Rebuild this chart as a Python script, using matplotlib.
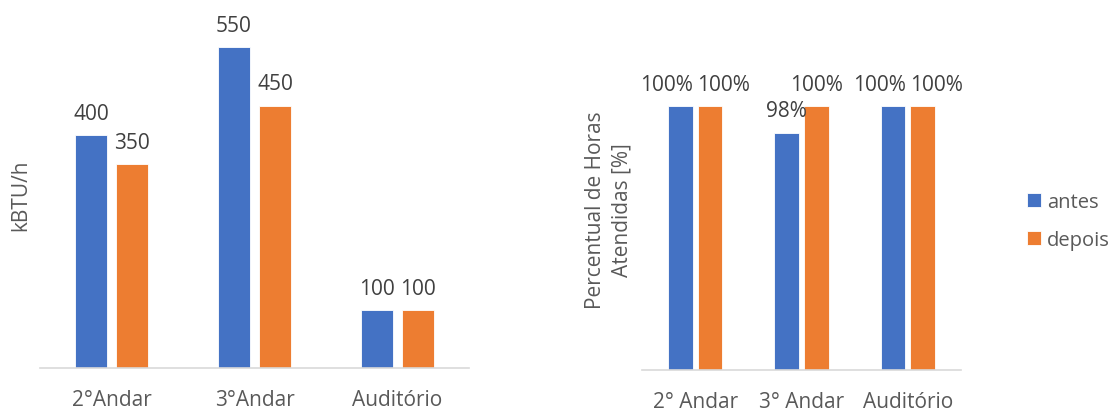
import matplotlib.pyplot as plt
import numpy as np

plt.rcParams['font.family'] = ['Open Sans', 'DejaVu Sans']

# data
carga_cats = ['2°Andar', '3°Andar', 'Auditório']
carga_antes = [400, 550, 100]
carga_depois = [350, 450, 100]

horas_cats = ['2° Andar', '3° Andar', 'Auditório']
horas_antes = [100, 98, 100]
horas_depois = [100, 100, 100]

series_names = ['antes', 'depois']

BLUE = '#4472C4'
ORANGE = '#ED7D31'
LABEL = '#404040'
GREY = '#595959'
W, H = 1115, 410

def px(x, y):
    # pixel position (from top-left) to figure fraction
    return x / W, 1 - y / H

def drawBars(ax, cats, antes, depois, width, off, fmt, spread=0):
    x = np.arange(len(cats))
    b1 = ax.bar(x - off, antes, width, color=BLUE, edgecolor='white', linewidth=0.6)
    b2 = ax.bar(x + off, depois, width, color=ORANGE, edgecolor='white', linewidth=0.6)
    for i in range(len(cats)):
        # labels at the same height get pushed apart so they don't collide
        dx = spread if antes[i] == depois[i] else 0
        for b, v, sgn in ((b1[i], antes[i], -1), (b2[i], depois[i], 1)):
            ax.annotate(fmt % v, (b.get_x() + b.get_width() / 2, b.get_height()),
                        xytext=(sgn * dx, 8), textcoords='offset points',
                        ha='center', va='bottom', fontsize=15, color=LABEL)
    ax.set_xticks(x)
    ax.set_xticklabels(cats, fontsize=15, color=GREY)
    ax.tick_params(axis='x', length=0, pad=15)
    ax.set_yticks([])
    for s in ['top', 'right', 'left']:
        ax.spines[s].set_visible(False)
    ax.spines['bottom'].set_color('#D9D9D9')
    ax.spines['bottom'].set_linewidth(1.2)
    ax.set_xlim(-0.5, len(cats) - 0.5)
    return b1, b2

def main():
    fig = plt.figure(figsize=(W / 100, H / 100), dpi=100)

    # left: capacity
    ax1 = fig.add_axes([40 / W, 41 / H, 429 / W, 350 / H])
    drawBars(ax1, carga_cats, carga_antes, carga_depois, 0.22, 0.143, '%d')
    ax1.set_ylim(0, 600)
    fig.text(*px(21, 195), 'kBTU/h', rotation=90, ha='center', va='center',
             fontsize=15, color=GREY)

    # right: hours met
    ax2 = fig.add_axes([642 / W, 39 / H, 319 / W, 343 / H])
    b1, b2 = drawBars(ax2, horas_cats, horas_antes, horas_depois, 0.23, 0.14,
                      '%d%%', spread=10)
    ax2.set_ylim(80, 106)
    fig.text(*px(609, 210), 'Percentual de Horas\nAtendidas [%]', rotation=90,
             ha='center', va='center', multialignment='center',
             fontsize=15, color=GREY, linespacing=1.35)

    fig.legend([b1, b2], series_names, loc='center left',
               bbox_to_anchor=px(1019, 222), frameon=False, fontsize=14.5,
               handlelength=0.7, handleheight=0.7, handletextpad=0.3,
               labelspacing=0.9, labelcolor=GREY, borderaxespad=0)

    plt.savefig('out.png', dpi=100)

main()
